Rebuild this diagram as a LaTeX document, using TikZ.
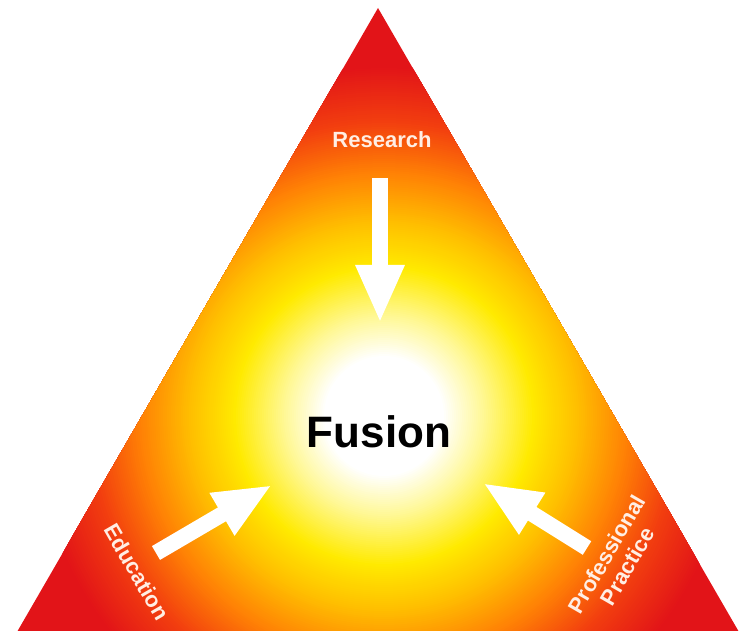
\documentclass[tikz,border=0pt]{standalone}
\usepackage{fontspec}
\setmainfont{Liberation Sans}
\usetikzlibrary{arrows.meta}

\definecolor{glowpale}{RGB}{255,248,150}
\definecolor{glowyellow}{RGB}{255,234,0}
\definecolor{glowamber}{RGB}{255,190,0}
\definecolor{gloworange}{RGB}{255,128,5}
\definecolor{glowember}{RGB}{242,62,15}
\definecolor{glowred}{RGB}{226,20,24}
\definecolor{labeltint}{RGB}{255,238,228}

\tikzset{
  inarrow/.style={white, line width=16pt, -{Triangle[width=45pt,length=58pt]}},
  sidelabel/.style={text=labeltint, font=\fontsize{22}{24}\selectfont\bfseries, inner sep=0pt}
}

\begin{document}
\begin{tikzpicture}[x=1pt,y=1pt]
\useasboundingbox (0,0) rectangle (747,630);
% Triangle filled with the glow
\coordinate (apex) at (378,622);
\coordinate (baseL) at (17,-2);
\coordinate (baseR) at (739,-2);
\coordinate (glow) at (384,214);
\begin{scope}
  \clip (apex) -- (baseL) -- (baseR) -- cycle;
  \fill[glowred] (glow) circle (460);
  % Rings: {outer radius, inner radius, outer colour, inner colour}
  \foreach \rout/\rin/\cout/\cin in {
    350/295/glowred/glowember,
    295/245/glowember/gloworange,
    245/195/gloworange/glowamber,
    195/150/glowamber/glowyellow,
    150/100/glowyellow/glowpale,
    100/60/glowpale/white%
  } {
    \pgfmathsetmacro{\rnext}{\rout-2}
    \foreach \r in {\rout,\rnext,...,\rin} {
      \pgfmathsetmacro{\p}{(\rout-\r)/(\rout-\rin)*100}
      \colorlet{ringcol}{\cin!\p!\cout}
      \fill[ringcol] (glow) circle (\r);
    }
  }
\end{scope}
% Centre word
\node[font=\fontsize{44}{50}\selectfont\bfseries, inner sep=0pt] (fusion) at (379,198) {Fusion};
% Corner labels
\node[sidelabel] (research) at (382,490) {Research};
\node[sidelabel, rotate=-60] (education) at (137,58) {Education};
\node[sidelabel, rotate=60, align=center] (practice) at (617,70) {Professional\\Practice};
% Arrow ends
\coordinate (restail) at (380,452);
\coordinate (restip) at (380,307);
\coordinate (edutail) at (156,77);
\coordinate (edutip) at (272,145);
\coordinate (protail) at (587,82);
\coordinate (protip) at (483,147);
% Arrows into the centre
\foreach \tail/\tip in {restail/restip, edutail/edutip, protail/protip}
  \draw[inarrow] (\tail) -- (\tip);
\end{tikzpicture}
\end{document}
